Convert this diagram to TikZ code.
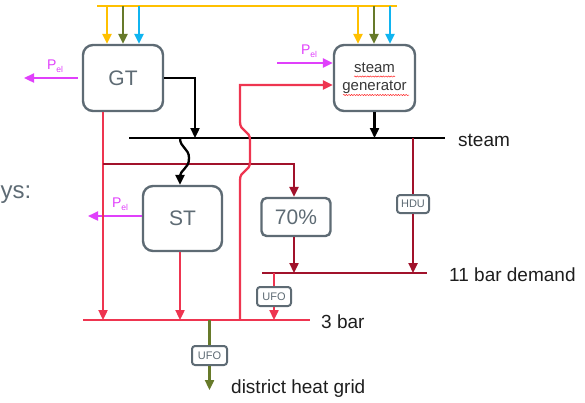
\documentclass[tikz,border=0pt]{standalone}
\usepackage{fontspec}
\setmainfont{Liberation Sans}
\usetikzlibrary{arrows.meta,decorations.pathmorphing}
\definecolor{cyel}{HTML}{FFC000}
\definecolor{cgrn}{HTML}{677A2A}
\definecolor{cblu}{HTML}{10B4F0}
\definecolor{cmag}{HTML}{E040FB}
\definecolor{cred}{HTML}{EE3550}
\definecolor{cdred}{HTML}{A1122B}
\definecolor{cbox}{HTML}{5E6B74}
\definecolor{ctxt}{HTML}{1E1E1E}
\definecolor{csg}{HTML}{383838}
\begin{document}
\begin{tikzpicture}[x=1pt,y=-1pt,
  >={Triangle[length=10pt,width=9pt]},
  flow/.style={line width=2.3pt},
  bigbox/.style={draw=cbox,line width=2.4pt,rounded corners=10pt,fill=white,text=cbox,
    inner sep=0pt,font=\fontsize{21}{21}\selectfont},
  smallbox/.style={draw=cbox,line width=2pt,rounded corners=3pt,fill=white,text=cbox,
    inner sep=0pt,font=\fontsize{11}{11}\selectfont},
  lbl/.style={text=ctxt,inner sep=0pt,anchor=base west,font=\fontsize{19}{19}\selectfont},
  pel/.style={text=cmag,inner sep=0pt},
  squig/.style={red!85!white,line width=0.5pt,decorate,decoration={snake,amplitude=0.6pt,segment length=2.6pt}}
]
\useasboundingbox (0,0) rectangle (585,402);

% bus coordinates
\coordinate (top0) at (97,6);
\coordinate (top1) at (397,6);
\coordinate (st0) at (129,138);
\coordinate (st1) at (445,138);
\coordinate (el0) at (262,273);
\coordinate (el1) at (427,273);
\coordinate (tb0) at (83,320);
\coordinate (tb1) at (310,320);

% nodes
\node[bigbox,minimum width=80pt,minimum height=66pt] (GT) at (123,78) {GT};
\node[bigbox,minimum width=81pt,minimum height=66pt,align=center,text=csg,
  font=\fontsize{15}{18}\selectfont] (SG) at (374.5,78) {steam\\generator};
\node[bigbox,minimum width=79pt,minimum height=65pt] (ST) at (182.5,218.5) {ST};
\node[bigbox,rounded corners=5pt,minimum width=69pt,minimum height=38pt] (P70) at (296,217) {70\%};
\node[smallbox,minimum width=32pt,minimum height=18pt] (HDU) at (413,204) {HDU};
\node[smallbox,minimum width=34pt,minimum height=19pt] (UFOa) at (274,296.5) {UFO};
\node[smallbox,minimum width=35pt,minimum height=19pt] (UFOb) at (209.5,355.5) {UFO};

% spell-check squiggles
\draw[squig] (354,76.5) -- (395,76.5);
\draw[squig] (343,95) -- (409,95);

% labels
\node[lbl] (lsteam) at (458,146) {steam};
\node[lbl] (l11) at (449,281) {11 bar demand};
\node[lbl] (l3) at (321,328) {3 bar};
\node[lbl] (ldh) at (231,393) {district heat grid};
\node[inner sep=0pt,anchor=base west,text=cbox,font=\fontsize{24}{24}\selectfont] (lys) at (0.5,198) {ys:};

% fuel bus
\draw[flow,cyel] (top0) -- (top1);
\coordinate (gy) at (107,6); \coordinate (gg) at (123,6); \coordinate (gb) at (139,6);
\coordinate (sy) at (358,6); \coordinate (sg) at (374,6); \coordinate (sb) at (390,6);
\draw[flow,cyel,->] (gy) -- (gy |- GT.north);
\draw[flow,cgrn,->] (gg) -- (gg |- GT.north);
\draw[flow,cblu,->] (gb) -- (gb |- GT.north);
\draw[flow,cyel,->] (sy) -- (sy |- SG.north);
\draw[flow,cgrn,->] (sg) -- (sg |- SG.north);
\draw[flow,cblu,->] (sb) -- (sb |- SG.north);

% electric power
\coordinate (pgt) at (24,78);
\draw[flow,cmag,->] ([xshift=-4pt]GT.west) -- (pgt);
\node[pel] (pl1) at (55,66) {\fontsize{14}{14}\selectfont P\raisebox{-2.5pt}{\fontsize{8.5}{8.5}\selectfont el}};
\coordinate (pst) at (88,216);
\draw[flow,cmag,->] (ST.west |- pst) -- (pst);
\node[pel] (pl2) at (120,204) {\fontsize{14}{14}\selectfont P\raisebox{-2.5pt}{\fontsize{8.5}{8.5}\selectfont el}};
\coordinate (psg) at (277,63);
\draw[flow,cmag,->] (psg) -- (SG.west |- psg);
\node[pel] (pl3) at (309,51) {\fontsize{14}{14}\selectfont P\raisebox{-2.5pt}{\fontsize{8.5}{8.5}\selectfont el}};

% steam bus
\draw[flow,black] (st0) -- (st1);
\coordinate (gte) at (195,78);
\draw[flow,black,->] (GT.east |- gte) -- (gte) -- (gte |- st0);
\coordinate (sgo) at (374.5,138);
\draw[flow,black,->] (SG.south) -- (sgo);

% 3 bar bus
\draw[flow,cred] (tb0) -- (tb1);
\coordinate (gtd) at (103,320);
\draw[flow,cred,->] (gtd |- GT.south) -- (gtd);
\coordinate (std) at (180,320);
\draw[flow,cred,->] (std |- ST.south) -- (std);

% 11 bar bus
\draw[flow,cdred] (el0) -- (el1);
\coordinate (br) at (103,164);
\coordinate (brr) at (294,164);
\draw[flow,cdred,->] (br) -- (brr) -- (brr |- P70.north);
\coordinate (p70d) at (294,273);
\draw[flow,cdred,->] (p70d |- P70.south) -- (p70d);
\coordinate (hdt) at (413,138);
\coordinate (hdb) at (413,273);
\draw[flow,cdred] (hdt) -- (HDU.north);
\draw[flow,cdred,->] (HDU.south) -- (hdb);

% steam to ST with jump
\coordinate (sts) at (180,138);
\draw[flow,black,->] (sts) .. controls (180,148) and (189,148) .. (189,158)
  .. controls (189,170) and (180,168) .. (180,178) -- (ST.north -| sts);

% 3 bar back to steam generator with jump
\coordinate (rb) at (240,320);
\coordinate (rt) at (240,85);
\draw[flow,cred,->] (rb) -- (240,180) .. controls (240,170) and (250,172) .. (250,162)
  -- (250,140) .. controls (250,130) and (240,132) .. (240,122) -- (rt) -- (SG.west |- rt);

% 11 bar to 3 bar via UFO
\coordinate (ua) at (274,273);
\coordinate (ub) at (274,320);
\draw[flow,cred] (ua) -- (UFOa.north);
\draw[flow,cred,->] (UFOa.south) -- (ub);

% district heat
\coordinate (da) at (209.5,320);
\coordinate (db) at (209.5,390);
\draw[flow,cgrn] (da) -- (UFOb.north);
\draw[flow,cgrn,->] (UFOb.south) -- (db);
\end{tikzpicture}
\end{document}
